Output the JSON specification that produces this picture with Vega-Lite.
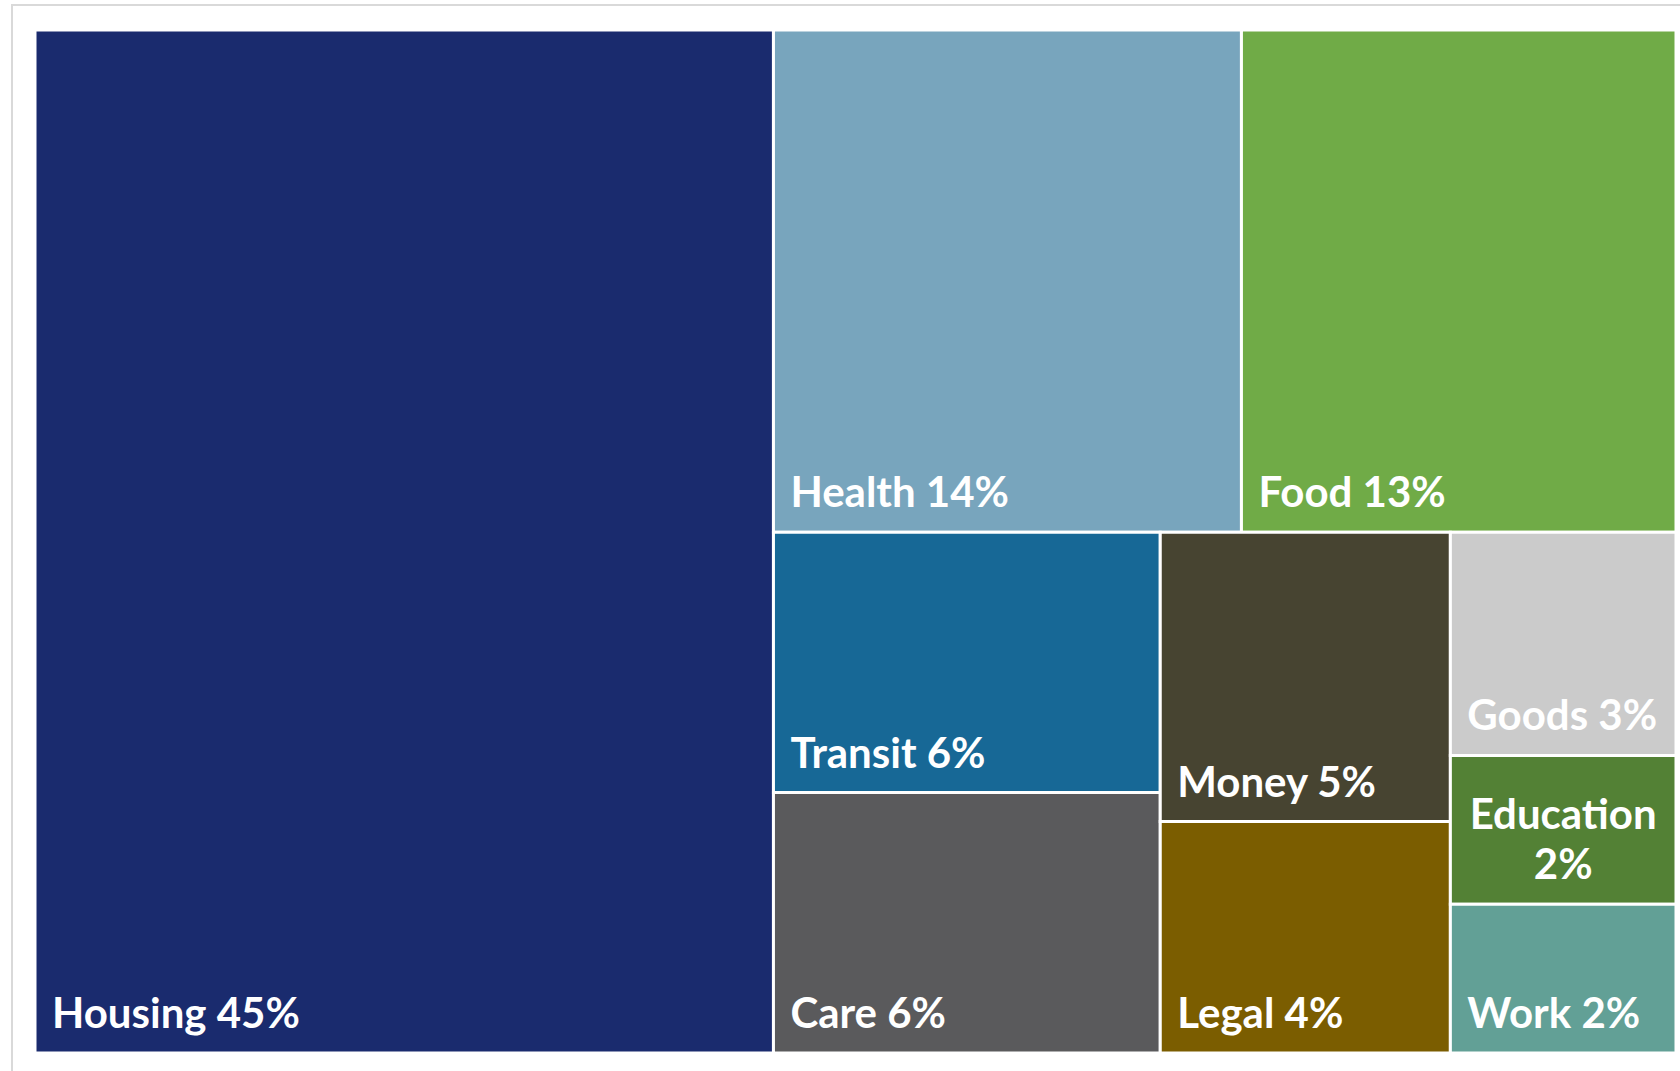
{
  "$schema": "https://vega.github.io/schema/vega-lite/v6.json",
  "width": 1670,
  "height": 1068,
  "autosize": {"type": "none"},
  "padding": {"left": 12, "top": 5, "right": 0, "bottom": 0},
  "background": "white",
  "config": {"view": {"stroke": "#d9d9d9", "strokeWidth": 2}},
  "data": {
    "values": [
      {"i": 1, "name": "Housing", "pct": 45, "g1": "Housing", "g2": "Housing", "g3": "Housing"},
      {"i": 2, "name": "Health", "pct": 14, "g1": "Rest", "g2": "Top", "g3": "Health"},
      {"i": 3, "name": "Food", "pct": 13, "g1": "Rest", "g2": "Top", "g3": "Food"},
      {"i": 4, "name": "Transit", "pct": 6, "g1": "Rest", "g2": "Bottom", "g3": "ColA"},
      {"i": 5, "name": "Care", "pct": 6, "g1": "Rest", "g2": "Bottom", "g3": "ColA"},
      {"i": 6, "name": "Money", "pct": 5, "g1": "Rest", "g2": "Bottom", "g3": "ColB"},
      {"i": 7, "name": "Legal", "pct": 4, "g1": "Rest", "g2": "Bottom", "g3": "ColB"},
      {"i": 8, "name": "Goods", "pct": 3, "g1": "Rest", "g2": "Bottom", "g3": "ColC"},
      {"i": 9, "name": "Education", "pct": 2, "g1": "Rest", "g2": "Bottom", "g3": "ColC"},
      {"i": 10, "name": "Work", "pct": 2, "g1": "Rest", "g2": "Bottom", "g3": "ColC"}
    ]
  },
  "transform": [
    {"window": [{"op": "sum", "field": "pct", "as": "cum"}], "sort": [{"field": "i"}], "frame": [null, 0]},
    {"calculate": "datum.cum - datum.pct", "as": "start"},
    {"joinaggregate": [{"op": "min", "field": "start", "as": "a1"}, {"op": "sum", "field": "pct", "as": "s1"}], "groupby": ["g1"]},
    {"joinaggregate": [{"op": "min", "field": "start", "as": "a2"}, {"op": "sum", "field": "pct", "as": "s2"}], "groupby": ["g2"]},
    {"joinaggregate": [{"op": "min", "field": "start", "as": "a3"}, {"op": "sum", "field": "pct", "as": "s3"}], "groupby": ["g3"]},
    {"calculate": "datum.a1 + datum.s1 * (datum.a3 - datum.a2) / datum.s2", "as": "x0"},
    {"calculate": "datum.a1 + datum.s1 * (datum.a3 - datum.a2 + datum.s3) / datum.s2", "as": "x1"},
    {"calculate": "(datum.a2 - datum.a1) / datum.s1 + (datum.s2 / datum.s1) * (datum.start - datum.a3) / datum.s3", "as": "y0"},
    {"calculate": "(datum.a2 - datum.a1) / datum.s1 + (datum.s2 / datum.s1) * (datum.start - datum.a3 + datum.pct) / datum.s3", "as": "y1"},
    {"calculate": "datum.name + ' ' + datum.pct + '%'", "as": "label"}
  ],
  "layer": [
    {
      "mark": {"type": "rect", "stroke": "white", "strokeWidth": 3},
      "encoding": {
        "x": {"field": "x0", "type": "quantitative", "scale": {"domain": [-1.4016, 100.3656], "nice": false, "zero": false}, "axis": null},
        "x2": {"field": "x1"},
        "y": {"field": "y0", "type": "quantitative", "scale": {"domain": [-0.02444, 1.01955], "reverse": true, "nice": false, "zero": false}, "axis": null},
        "y2": {"field": "y1"},
        "color": {
          "field": "name",
          "type": "nominal",
          "scale": {
            "domain": ["Housing", "Health", "Food", "Transit", "Care", "Money", "Legal", "Goods", "Education", "Work"],
            "range": ["#1a2b6e", "#78a5bd", "#70ab47", "#176896", "#5a5a5c", "#474431", "#7b5d00", "#cbcbcb", "#538135", "#62a096"]
          },
          "legend": null
        }
      }
    },
    {
      "transform": [{"filter": "datum.name != 'Education'"}],
      "mark": {"type": "text", "align": "left", "baseline": "alphabetic", "dx": 17, "dy": -25, "font": "Lato", "fontWeight": "bold", "fontSize": 42, "fill": "white"},
      "encoding": {
        "x": {"field": "x0", "type": "quantitative"},
        "y": {"field": "y1", "type": "quantitative"},
        "text": {"field": "label"}
      }
    },
    {
      "transform": [
        {"filter": "datum.name == 'Education'"},
        {"calculate": "[datum.name, datum.pct + '%']", "as": "lab2"},
        {"calculate": "(datum.x0 + datum.x1) / 2", "as": "xm"},
        {"calculate": "(datum.y0 + datum.y1) / 2", "as": "ym"}
      ],
      "mark": {"type": "text", "align": "center", "baseline": "middle", "lineHeight": 50, "dy": -14, "font": "Lato", "fontWeight": "bold", "fontSize": 42, "fill": "white"},
      "encoding": {
        "x": {"field": "xm", "type": "quantitative"},
        "y": {"field": "ym", "type": "quantitative"},
        "text": {"field": "lab2"}
      }
    }
  ]
}
